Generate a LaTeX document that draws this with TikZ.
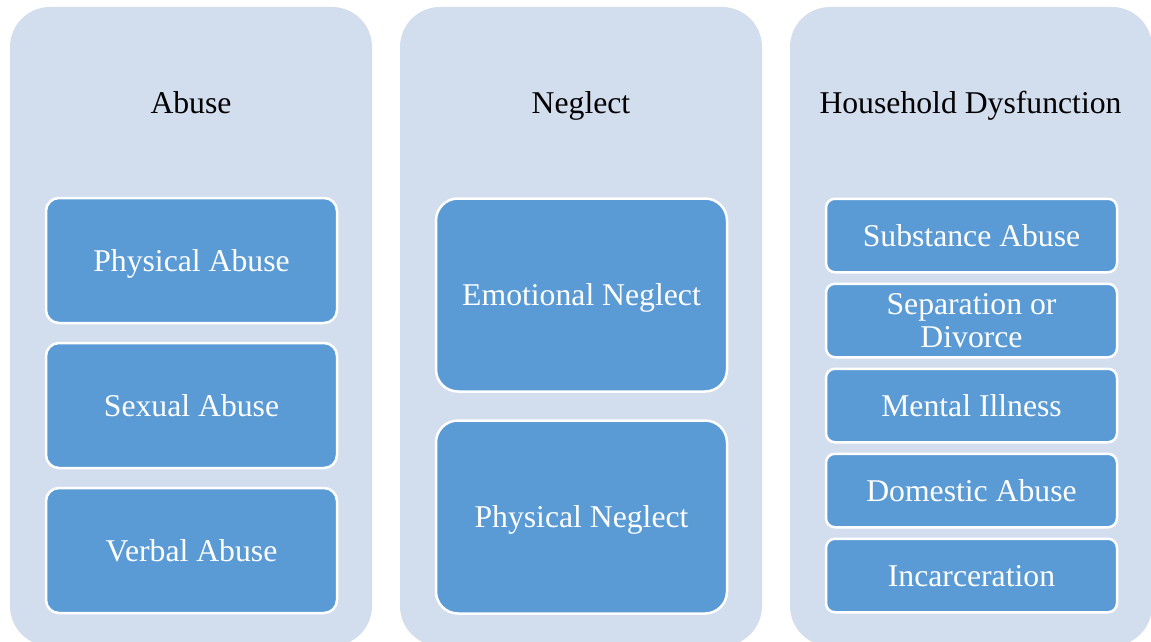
\documentclass[tikz,border=0pt]{standalone}
\usepackage{fontspec}
\setmainfont{Liberation Serif}
\definecolor{panelfill}{HTML}{D2DDEE}
\definecolor{boxfill}{HTML}{5B9BD5}
\begin{document}
\begin{tikzpicture}[x=1pt,y=-1pt,
  panel/.style={fill=panelfill, draw=none, rounded corners=40pt, minimum width=362pt, minimum height=639pt, inner sep=0pt},
  title/.style={font=\fontsize{31.7}{33}\selectfont, text=black, inner sep=0pt, text height=21.5pt, text depth=0pt},
  item/.style={fill=boxfill, draw=white, line width=2.5pt, text=white, font=\fontsize{31.7}{33}\selectfont, minimum width=291pt, inner sep=0pt, text height=21.5pt, text depth=0pt, align=center},
  itemA/.style={item, minimum height=125pt, rounded corners=13pt},
  itemB/.style={item, minimum height=193pt, rounded corners=22pt},
  itemC/.style={item, minimum height=73.5pt, rounded corners=9pt}
]
\useasboundingbox (0,0) rectangle (1151,642);
\clip (0,0) rectangle (1151,642);
% panels
\node[panel] (p1) at (191,326.5) {};
\node[panel] (p2) at (581,326.5) {};
\node[panel] (p3) at (971,326.5) {};
% titles
\node[title] (t1) at (191,102.5) {Abuse};
\node[title] (t2) at (581,102.5) {Neglect};
\node[title] (t3) at (970.5,102.5) {Household Dysfunction};
% abuse
\node[itemA] (a1) at (191.5,260.5) {Physical Abuse};
\node[itemA] (a2) at (191.5,405.5) {Sexual Abuse};
\node[itemA] (a3) at (191.5,550.5) {Verbal Abuse};
% neglect
\node[itemB] (n1) at (581.5,295) {Emotional Neglect};
\node[itemB] (n2) at (581.5,517) {Physical Neglect};
% household dysfunction
\node[itemC] (h1) at (971.5,235.5) {Substance Abuse};
\node[itemC, text height=, text depth=0pt] (h2) at (971.5,320.5) {Separation or\\Divorce};
\node[itemC] (h3) at (971.5,405.5) {Mental Illness};
\node[itemC] (h4) at (971.5,490.5) {Domestic Abuse};
\node[itemC] (h5) at (971.5,575.5) {Incarceration};
\end{tikzpicture}
\end{document}
